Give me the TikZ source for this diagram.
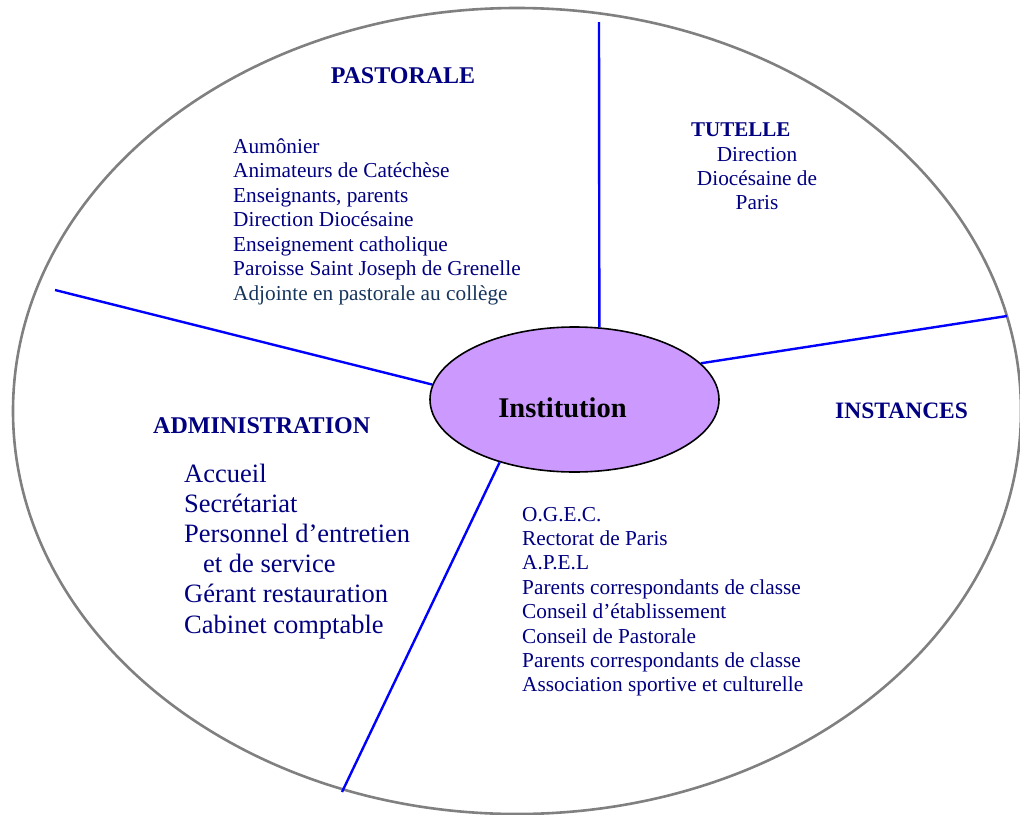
\documentclass[tikz,border=0pt]{standalone}
\usepackage{fontspec}
\setmainfont{Liberation Serif}
\usetikzlibrary{shapes.geometric}
\definecolor{navy}{RGB}{0,0,128}
\definecolor{deepteal}{RGB}{23,54,93}
\definecolor{lilac}{RGB}{204,153,255}
\definecolor{rim}{RGB}{128,128,128}
\begin{document}
\begin{tikzpicture}[x=1pt,y=-1pt,
  head/.style={font=\fontsize{24}{28}\selectfont\bfseries, text=navy, inner sep=0, anchor=base west},
  item/.style={font=\fontsize{21.3}{24.5}\selectfont, text=navy, inner sep=0, anchor=base west},
  bigitem/.style={font=\fontsize{26.5}{31}\selectfont, text=navy, inner sep=0, anchor=base west},
  spoke/.style={draw=blue, line width=2.4pt},
  hub/.style={ellipse, draw=black, line width=1.6pt, fill=lilac, minimum width=289pt, minimum height=145pt, inner sep=0pt}]
\useasboundingbox (0,0) rectangle (1020,814);
% outer ellipse
\draw[draw=rim, line width=2.6pt] (517,411) ellipse [x radius=504, y radius=403];
% hub
\node[hub] (inst) at (574.5,399.5) {};
\node[font=\fontsize{28.5}{30}\selectfont\bfseries, inner sep=0pt, anchor=base] (insttxt) at (562.5,417) {Institution};
% spoke ends
\coordinate (eN) at (599,22);
\coordinate (eW) at (55,290);
\coordinate (eE) at (1007,316);
\coordinate (eS) at (342,792);
\draw[spoke] (inst.71) -- (eN);
\draw[spoke] (inst.174.6) -- (eW);
\draw[spoke] (inst.16.6) -- (eE);
\draw[spoke] (inst.220) -- (eS);
% PASTORALE
\node[head, anchor=base] (hp) at (403,83) {PASTORALE};
\foreach \t [count=\i] in {Aumônier, Animateurs de Catéchèse, {Enseignants, parents}, Direction Diocésaine, Enseignement catholique, Paroisse Saint Joseph de Grenelle}
  \node[item] (p\i) at (233,{153+24.5*(\i-1)}) {\t};
\node[item, text=deepteal] (p7) at (233,{153+24.5*6}) {Adjointe en pastorale au collège};
% TUTELLE
\node[head, font=\fontsize{21}{24}\selectfont\bfseries] (ht) at (691,136) {TUTELLE};
\node[item, anchor=base] (t1) at (757,161) {Direction};
\node[item, anchor=base] (t2) at (757,185) {Diocésaine de};
\node[item, anchor=base] (t3) at (757,209) {Paris};
% ADMINISTRATION
\node[head] (ha) at (153,433) {ADMINISTRATION};
\node[bigitem] (a1) at (184,482) {Accueil};
\node[bigitem] (a2) at (184,512.2) {Secrétariat};
\node[bigitem] (a3) at (184,542.4) {Personnel d’entretien};
\node[bigitem] (a4) at (203,572.6) {et de service};
\node[bigitem] (a5) at (184,602.8) {Gérant restauration};
\node[bigitem] (a6) at (184,633) {Cabinet comptable};
% INSTANCES
\node[head, font=\fontsize{23.5}{28}\selectfont\bfseries] (hi) at (835,418) {INSTANCES};
\foreach \t [count=\i] in {O.G.E.C., Rectorat de Paris, A.P.E.L, Parents correspondants de classe, Conseil d’établissement, Conseil de Pastorale, Parents correspondants de classe, Association sportive et culturelle}
  \node[item] (s\i) at (522,{521+24.4*(\i-1)}) {\t};
\end{tikzpicture}
\end{document}
